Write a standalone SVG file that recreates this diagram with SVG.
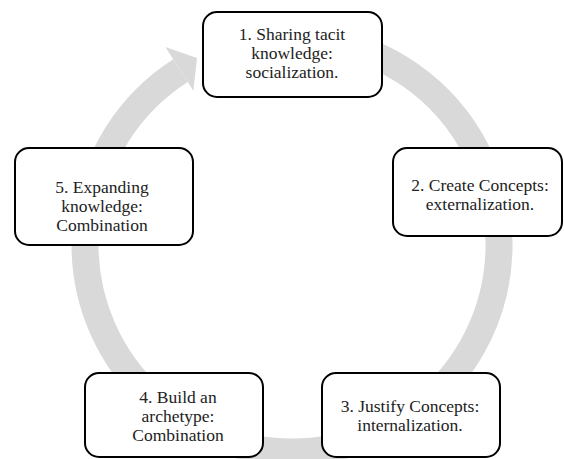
<svg xmlns="http://www.w3.org/2000/svg" width="564" height="459" viewBox="0 0 564 459">
<style>
.box{fill:#ffffff;stroke:#000000;stroke-width:2}
.t{font-family:'Liberation Serif','DejaVu Serif',serif;font-size:17.5px;fill:#222222;text-anchor:middle}
.ring{fill:none;stroke:#d9d9d9;stroke-width:27}
</style>
<g id="connectors">
<path class="ring" d="M327.9 41.1 A207 207 0 1 1 180.5 70.6"/>
<polygon points="165.4,47 197,58 193.4,90.8" fill="#d9d9d9"/>
</g>
<g id="node1">
<rect class="box" x="203" y="12" width="179" height="85" rx="14"/>
<text class="t" font-family="Liberation Serif" x="292" y="40">1. Sharing tacit</text>
<text class="t" font-family="Liberation Serif" x="292" y="59">knowledge:</text>
<text class="t" font-family="Liberation Serif" x="292" y="78">socialization.</text>
</g>
<g id="node2">
<rect class="box" x="393" y="148" width="169" height="88" rx="14"/>
<text class="t" font-family="Liberation Serif" x="480" y="191">2. Create Concepts:</text>
<text class="t" font-family="Liberation Serif" x="480" y="210">externalization.</text>
</g>
<g id="node3">
<rect class="box" x="322" y="373" width="178" height="84" rx="14"/>
<text class="t" font-family="Liberation Serif" x="410" y="412">3. Justify Concepts:</text>
<text class="t" font-family="Liberation Serif" x="410" y="431">internalization.</text>
</g>
<g id="node4">
<rect class="box" x="85" y="373" width="178" height="84" rx="14"/>
<text class="t" font-family="Liberation Serif" x="178" y="403">4. Build an</text>
<text class="t" font-family="Liberation Serif" x="178" y="422">archetype:</text>
<text class="t" font-family="Liberation Serif" x="178" y="441">Combination</text>
</g>
<g id="node5">
<rect class="box" x="15" y="148" width="178" height="97" rx="14"/>
<text class="t" font-family="Liberation Serif" x="102" y="193">5. Expanding</text>
<text class="t" font-family="Liberation Serif" x="102" y="212">knowledge:</text>
<text class="t" font-family="Liberation Serif" x="102" y="231">Combination</text>
</g>
</svg>
